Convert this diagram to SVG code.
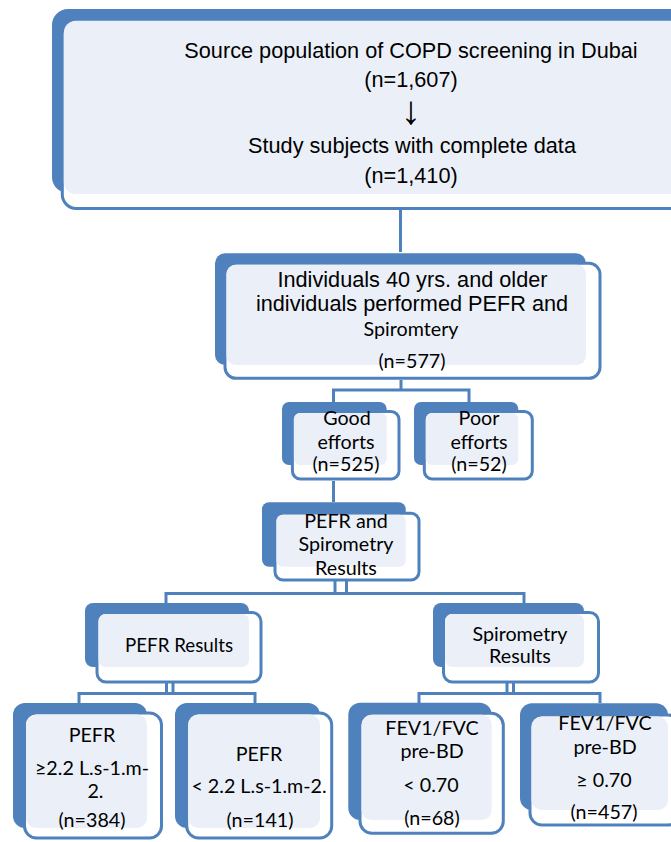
<svg xmlns="http://www.w3.org/2000/svg" width="671" height="842" viewBox="0 0 671 842">
<style>
.b{fill:#4F81BD}
.o{fill:#FFFFFF;stroke:#4F81BD;stroke-width:3}
.l{fill:#EBF0F8}
.a{font-family:"Liberation Sans",Arial,sans-serif;font-size:21.7px;text-anchor:middle;fill:#000}
.c{font-family:Lato,"Liberation Sans",sans-serif;font-size:19.7px;text-anchor:middle;fill:#000}
.ar{font-family:"Liberation Sans",sans-serif;font-size:40px;text-anchor:middle;fill:#000}
.k{stroke:#4F81BD;stroke-width:3;fill:none}
.kl{stroke:#C9D6EA;stroke-width:3;fill:none}
</style>
<rect width="671" height="842" fill="#FFFFFF"/>
<g id="connectors">
<path class="kl" d="M400.5 196V206"/>
<path class="k" d="M400.5 209V252"/>
<path class="kl" d="M401 367V377"/>
<path class="k" d="M401 380V390M333.5 402V390H469V402"/>
<path class="kl" d="M333.5 467V478"/>
<path class="k" d="M333.5 481V502"/>
<path class="k" d="M335 581V593.5M346.5 581V593.5M166 603V593.5H524V603"/>
<path class="kl" d="M166.5 669V680M173 669V680"/>
<path class="k" d="M166.5 683V693.5M173 683V693.5M79 703V693.5H255V703"/>
<path class="kl" d="M507 669V680M513.5 669V680"/>
<path class="k" d="M507 683V693.5M513.5 683V693.5M419 703V693.5H600V703"/>
</g>
<g id="n1">
<rect class="b" x="52" y="9" width="700" height="184" rx="16"/>
<rect class="o" x="62.3" y="21" width="700" height="187.5" rx="14"/>
<rect class="l" x="63.8" y="20.7" width="700" height="173.3" rx="12"/>
<text class="a" x="411" y="57.5">Source population of COPD screening in Dubai</text>
<text class="a" x="411" y="87">(n=1,607)</text>
<text class="ar" x="411" y="124">↓</text>
<text class="a" x="412" y="153">Study subjects with complete data</text>
<text class="a" x="411" y="183">(n=1,410)</text>
</g>
<g id="n2">
<rect class="b" x="215" y="253.3" width="371" height="111.7" rx="10"/>
<rect class="o" x="225" y="263.3" width="375" height="115" rx="11"/>
<rect class="l" x="226.5" y="264.8" width="359.5" height="100.2" rx="9"/>
<text class="a"><tspan x="412.5" y="287">Individuals 40 yrs. and older</tspan><tspan x="412" y="311.3">individuals performed PEFR and</tspan><tspan x="411" y="335.5" style="font-family:Lato,'Liberation Sans',sans-serif;font-size:19.7px">Spiromtery</tspan></text>
<text class="c" x="412" y="368">(n=577)</text>
</g>
<g id="n3">
<rect class="b" x="282" y="402" width="104.7" height="63" rx="7"/>
<rect class="o" x="292.4" y="411.5" width="106.6" height="67.5" rx="8"/>
<rect class="l" x="293.9" y="413" width="92.8" height="52" rx="6"/>
<text class="c"><tspan x="347" y="425">Good</tspan><tspan x="346" y="449.3">efforts</tspan><tspan x="346" y="471">(n=525)</tspan></text>
</g>
<g id="n4">
<rect class="b" x="414" y="402" width="104.3" height="63" rx="7"/>
<rect class="o" x="424.3" y="411.5" width="108" height="67.5" rx="8"/>
<rect class="l" x="425.8" y="413" width="92.5" height="52" rx="6"/>
<text class="c"><tspan x="479" y="425">Poor</tspan><tspan x="479" y="449.3">efforts</tspan><tspan x="479" y="471">(n=52)</tspan></text>
</g>
<g id="n5">
<rect class="b" x="262" y="502.3" width="143.7" height="64.4" rx="7"/>
<rect class="o" x="275" y="513.3" width="144" height="66.7" rx="8"/>
<rect class="l" x="276.5" y="514.8" width="129.2" height="51.9" rx="6"/>
<text class="c"><tspan x="346" y="527.7">PEFR and</tspan><tspan x="346" y="550.7">Spirometry</tspan><tspan x="346" y="575">Results</tspan></text>
</g>
<g id="n6">
<rect class="b" x="85" y="603" width="164" height="64" rx="8"/>
<rect class="o" x="97" y="612.5" width="164" height="69.5" rx="9"/>
<rect class="l" x="98.5" y="614" width="150.5" height="53" rx="7"/>
<text class="c" x="179" y="652" textLength="108" lengthAdjust="spacingAndGlyphs">PEFR Results</text>
</g>
<g id="n7">
<rect class="b" x="433" y="603" width="151" height="64" rx="8"/>
<rect class="o" x="443.5" y="612.5" width="155" height="69.5" rx="9"/>
<rect class="l" x="445" y="614" width="139" height="53" rx="7"/>
<text class="c"><tspan x="520" y="640.7">Spirometry</tspan><tspan x="520" y="663.3">Results</tspan></text>
</g>
<g id="n8">
<rect class="b" x="13" y="703" width="134" height="125" rx="12"/>
<rect class="o" x="24.5" y="713" width="137" height="125" rx="12"/>
<rect class="l" x="26" y="714.5" width="121" height="113.5" rx="10"/>
<text class="c"><tspan x="92" y="741.7">PEFR</tspan><tspan x="92" y="775">≥2.2 L.s-1.m-</tspan><tspan x="95.5" y="798.3">2.</tspan><tspan x="92" y="826.7">(n=384)</tspan></text>
</g>
<g id="n9">
<rect class="b" x="175" y="703" width="145" height="125" rx="12"/>
<rect class="o" x="186.7" y="713" width="145" height="125" rx="12"/>
<rect class="l" x="188.2" y="714.5" width="131.8" height="113.5" rx="10"/>
<text class="c"><tspan x="259" y="761">PEFR</tspan><tspan x="259" y="793.3">&lt; 2.2 L.s-1.m-2.</tspan><tspan x="260" y="826.7">(n=141)</tspan></text>
</g>
<g id="n10">
<rect class="b" x="348.3" y="702.7" width="143.4" height="117.3" rx="12"/>
<rect class="o" x="360" y="713.3" width="143.3" height="120" rx="12"/>
<rect class="l" x="361.5" y="714.8" width="130.2" height="105.2" rx="10"/>
<text class="c"><tspan x="432" y="735">FEV1/FVC</tspan><tspan x="432" y="758">pre-BD</tspan><tspan x="431" y="791.7">&lt; 0.70</tspan><tspan x="432" y="825">(n=68)</tspan></text>
</g>
<g id="n11">
<rect class="b" x="520" y="703.3" width="148" height="106.7" rx="12"/>
<rect class="o" x="530" y="715" width="150" height="110" rx="12"/>
<rect class="l" x="531.5" y="716.5" width="136.5" height="93.5" rx="10"/>
<text class="c"><tspan x="605" y="730">FEV1/FVC</tspan><tspan x="605" y="754">pre-BD</tspan><tspan x="604" y="787.3">≥ 0.70</tspan><tspan x="604" y="819.3">(n=457)</tspan></text>
</g>
</svg>
